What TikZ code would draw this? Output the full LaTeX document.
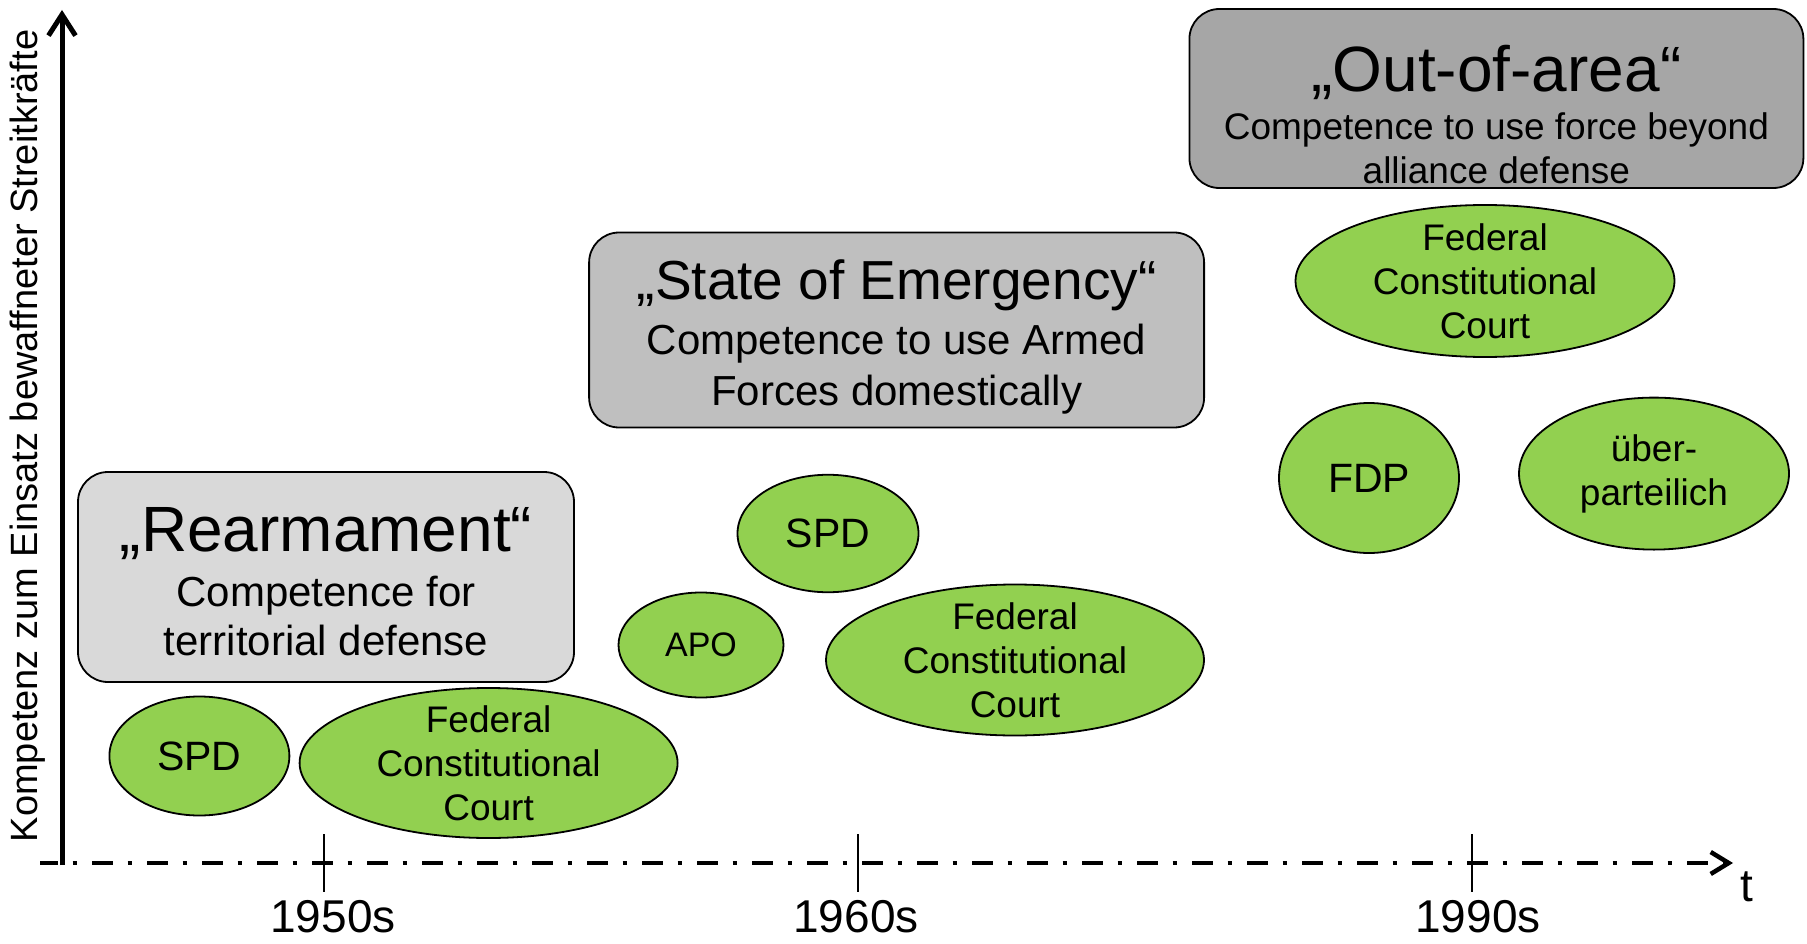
\documentclass[tikz,border=0pt]{standalone}
\usepackage{fontspec}
\setmainfont{Liberation Sans}
\usetikzlibrary{shapes.geometric,arrows.meta}
\definecolor{grn}{HTML}{92D050}
\definecolor{boxA}{HTML}{D9D9D9}
\definecolor{boxB}{HTML}{BFBFBF}
\definecolor{boxC}{HTML}{A6A6A6}
\newcommand\fsz[2]{\fontsize{#1pt}{#2pt}\selectfont}
\begin{document}
\begin{tikzpicture}[x=1pt,y=-1pt,
  greenell/.style={ellipse, draw=black, line width=1.8pt, fill=grn, inner sep=-40pt, align=center},
  phasebox/.style={draw=black, line width=1.8pt, rounded corners=30pt, inner sep=0pt},
  boxtext/.style={align=center, inner sep=0pt},
  ticklbl/.style={font=\fsz{46}{50}, inner sep=0pt},
  tickline/.style={line width=1.5pt},
  ]
\useasboundingbox (0,0) rectangle (1807,944);

% phase boxes
\node[phasebox, fill=boxA, minimum width=496pt, minimum height=210pt] (rearm) at (326,577) {};
\node[boxtext, font=\fsz{42}{49}] (rearmtext) at (326,581.5)
  {{\fsz{64}{49}„Rearmament“}\\[6pt] Competence for\\ territorial defense};

\node[phasebox, fill=boxB, minimum width=615pt, minimum height=195pt] (emerg) at (896.6,330) {};
\node[boxtext, font=\fsz{42}{51}] (emergtext) at (896.6,337)
  {{\fsz{55}{51}„State of Emergency“}\\[4pt] Competence to use Armed\\ Forces domestically};

\node[phasebox, fill=boxC, minimum width=614pt, minimum height=179pt] (outarea) at (1496.4,98.5) {};
\node[boxtext, font=\fsz{37}{44}] (outareatext) at (1496.4,114.5)
  {{\fsz{64}{44}„Out-of-area“}\\[4pt] Competence to use force beyond\\ alliance defense};

% actors
\node[greenell, minimum width=180pt, minimum height=119pt, font=\fsz{41}{48}] (spdA) at (199.4,756) {SPD};
\node[greenell, minimum width=378pt, minimum height=150pt, font=\fsz{37}{44}] (fccA) at (488.6,763) {Federal\\Constitutional\\Court};
\node[greenell, minimum width=165pt, minimum height=105pt, font=\fsz{34}{40}] (apo) at (701,645) {APO};
\node[greenell, minimum width=181pt, minimum height=117.5pt, font=\fsz{41}{48}] (spdB) at (828,533.5) {SPD};
\node[greenell, minimum width=378pt, minimum height=151pt, font=\fsz{37}{44}] (fccB) at (1015,660) {Federal\\Constitutional\\Court};
\node[greenell, minimum width=379pt, minimum height=152pt, font=\fsz{37}{44}] (fccC) at (1485,281) {Federal\\Constitutional\\Court};
\node[greenell, minimum width=180pt, minimum height=150pt, font=\fsz{41}{48}] (fdp) at (1369,478) {FDP};
\node[greenell, minimum width=270pt, minimum height=152pt, font=\fsz{37}{44}] (ueber) at (1654,473.6) {\raisebox{-3pt}{über-}\\\raisebox{-3pt}{parteilich}};

% axes
\coordinate (ybot) at (62,865);
\coordinate (ytop) at (62,10);
\coordinate (xstart) at (40,863);
\coordinate (xtip) at (1733,863);
\draw[line width=5pt, -{Straight Barb[length=21pt,width=27pt]}] (ybot) -- (ytop);
\draw[line width=4.5pt, dash pattern=on 21pt off 14.5pt on 4pt off 15.5pt, dash phase=3pt,
      -{Straight Barb[length=18pt,width=22pt]}] (xstart) -- (xtip);

% ticks
\coordinate (tAtop) at (324,834); \coordinate (tAbot) at (324,892);
\coordinate (tBtop) at (858,834); \coordinate (tBbot) at (858,892);
\coordinate (tCtop) at (1472,834); \coordinate (tCbot) at (1472,892);
\draw[tickline] (tAtop) -- (tAbot);
\draw[tickline] (tBtop) -- (tBbot);
\draw[tickline] (tCtop) -- (tCbot);
\node[ticklbl] (l1950) at (333,917) {1950s};
\node[ticklbl] (l1960) at (856,917) {1960s};
\node[ticklbl] (l1990) at (1478,917) {1990s};
\node[ticklbl] (tlbl) at (1747,887) {t};

% y label
\node[rotate=90, font=\fsz{38}{44}, inner sep=0pt] (ylabel) at (28,436) {Kompetenz zum Einsatz bewaffneter Streitkräfte};
\end{tikzpicture}
\end{document}
